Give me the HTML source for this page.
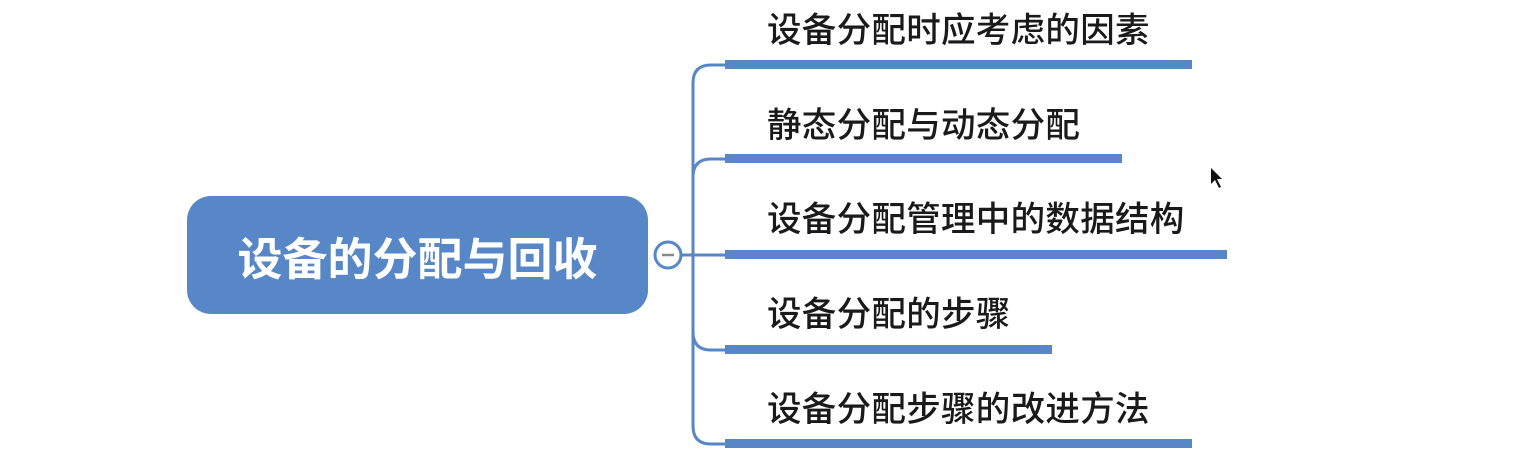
<!DOCTYPE html>
<html><head><meta charset="utf-8"><style>
body{margin:0;width:1524px;height:456px;background:#fff;overflow:hidden;position:relative;font-family:"Liberation Sans","Noto Sans CJK SC",sans-serif}
.t{position:absolute;left:767px;font-size:34.5px;font-weight:500;color:#1a1a1a;line-height:40px;white-space:nowrap;letter-spacing:0.3px}
</style></head><body>
<div style="position:absolute;left:187px;top:196px;width:461px;height:118px;background:#5787c6;border-radius:24px;color:#fff;font-weight:bold;font-size:45px;display:flex;align-items:center;justify-content:center;padding-left:0;box-sizing:border-box">设备的分配与回收</div>
<svg width="1524" height="456" style="position:absolute;left:0;top:0">
<g fill="none" stroke="#5787c6" stroke-width="3">
<path d="M726 65 H711 Q693 65 693 83 V426 Q693 444 711 444 H726"/>
<path d="M726 159 H711 Q693 159 693 177"/>
<path d="M726 350 H711 Q693 350 693 332"/>
<path d="M681 255 H726"/>
<circle cx="668" cy="255" r="13" fill="#fff"/>
</g>
<line x1="662" y1="255" x2="674" y2="255" stroke="#8a8a8a" stroke-width="2.5"/>
<g fill="#5787c6">
<rect x="725" y="60" width="467" height="9"/>
<rect x="725" y="154" width="397" height="9"/>
<rect x="725" y="250" width="502" height="9"/>
<rect x="725" y="345" width="327" height="9"/>
<rect x="725" y="439" width="467" height="9"/>
</g>
<path d="M1211 168 L1211 184 L1215 180 L1219 188 L1221 187 L1217 179 L1222 179 Z" fill="#111"/>
</svg>
<div class="t" style="top:11px">设备分配时应考虑的因素</div>
<div class="t" style="top:106px">静态分配与动态分配</div>
<div class="t" style="top:200px">设备分配管理中的数据结构</div>
<div class="t" style="top:295px">设备分配的步骤</div>
<div class="t" style="top:390px">设备分配步骤的改进方法</div>
</body></html>
